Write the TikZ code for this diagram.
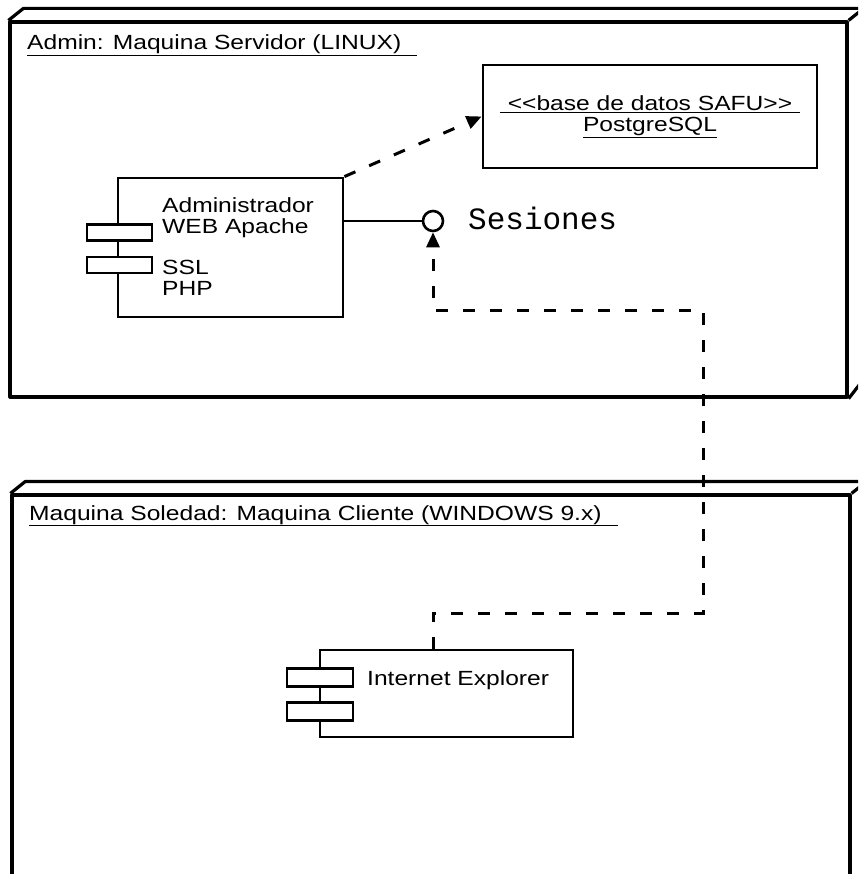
\documentclass[tikz,border=0pt]{standalone}
\usepackage{fontspec}
\setmainfont{Liberation Sans}[FakeStretch=1.2]
\newfontfamily\sesionfont{Liberation Mono}
\usetikzlibrary{arrows.meta,positioning}

\begin{document}
\begin{tikzpicture}[
  x=1pt,
  y=-1pt,
  every node/.style={font=\fontsize{20.5}{21}\selectfont, inner sep=0pt},
  nodebox/.style={draw, line width=3.2pt, line join=round},
  compbox/.style={draw, line width=2.8pt},
  socket/.style={draw, fill=white, line width=2.8pt, minimum width=65, minimum height=16},
  iface/.style={line width=2pt},
  depend/.style={line width=3pt, dash pattern=on 12pt off 15pt,
    -{Triangle[length=15pt,width=13pt]}}
]
  \clip (0,0) rectangle (858,874);

  % ---- the server machine ----------------------------------------------
  \node[nodebox, minimum width=837, minimum height=375] (server) at (428.5,209.5) {};
  \draw[nodebox] (server.north west) -- ++(15,-12) -- ++(837,0) -- ++(0,375)
    -- (server.south east);
  \draw[nodebox] (server.north east) -- ++(15,-12);
  \node[anchor=base west] (srvtitle) at (27,50)
    {\underline{Admin: Maquina Servidor (LINUX)\hspace{16pt}}};

  % ---- the client machine ----------------------------------------------
  \node[nodebox, minimum width=838, minimum height=400] (client) at (431,695) {};
  \draw[nodebox] (client.north west) -- ++(15,-12) -- ++(838,0) -- ++(0,400);
  \draw[nodebox] (client.north east) -- ++(15,-12);
  \node[anchor=base west] (clititle) at (29,520)
    {\underline{Maquina Soledad: Maquina Cliente (WINDOWS 9.x)\hspace{16pt}}};

  % ---- the database ----------------------------------------------------
  \node[compbox, minimum width=334, minimum height=103, align=center] (db)
    at (650,116.5)
    {\underline{\hspace{8pt}<\kern0pt<base de datos SAFU>\kern0pt>\hspace{8pt}}\\
     \underline{PostgreSQL}};

  % ---- the web server component ----------------------------------------
  \node[compbox, minimum width=225, minimum height=139] (admin) at (230.5,247.5) {};
  \node[socket] (adminsock1) at (119.5,232.5) {};
  \node[socket] (adminsock2) at (119.5,265) {};
  \node[anchor=west, align=left] (admintext) at (162,217.5)
    {Administrador\\WEB Apache};
  \node[anchor=west, align=left] (adminlibs) at (162,277.5) {SSL\\PHP};

  % ---- the sessions interface ------------------------------------------
  \node[circle, draw, line width=2.6pt, minimum size=20] (sesion) at (433,221) {};
  \node[anchor=base west, font=\sesionfont\fontsize{31}{32}\selectfont]
    (sesionlbl) at (468,230) {Sesiones};
  \draw[iface] (admin.east |- sesion.west) -- (sesion.west);

  % ---- the browser component -------------------------------------------
  \node[compbox, minimum width=253, minimum height=87] (ie) at (446.5,693.5) {};
  \node[socket, minimum width=66, minimum height=18] (iesock1) at (320,677.5) {};
  \node[socket, minimum width=66, minimum height=18] (iesock2) at (320,711.5) {};
  \node[anchor=west] (ietext) at (367,680) {Internet Explorer};

  % ---- dependencies ----------------------------------------------------
  \coordinate (lowturn) at (703,613);
  \coordinate (highturn) at (703,310);
  \draw[depend] (admin.north east) -- (db.west);
  \draw[depend] (ie.north -| sesion) |- (lowturn) -- (highturn) -| (sesion.south);
\end{tikzpicture}
\end{document}
